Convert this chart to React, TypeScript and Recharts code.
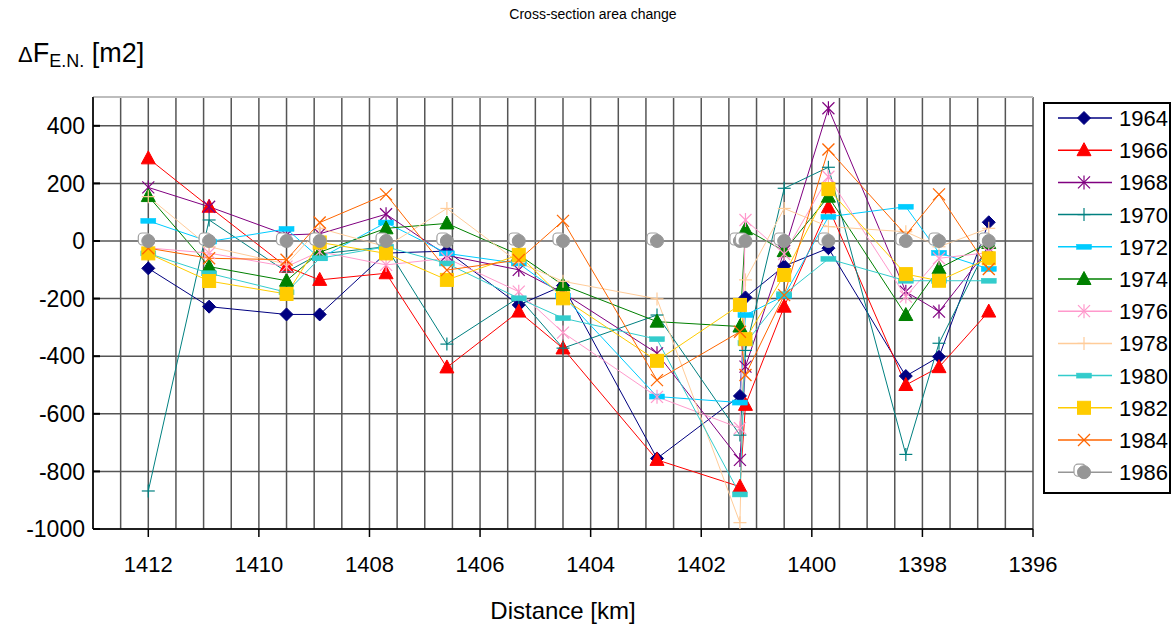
import React from 'react';
import { LineChart, Line, XAxis, YAxis, CartesianGrid, ReferenceLine } from 'recharts';

// Distance along the river [km]
const distances = [1412, 1410.9, 1409.5, 1408.9, 1407.7, 1406.6, 1405.3, 1404.5, 1402.8, 1401.3, 1401.2, 1400.5, 1399.7, 1398.3, 1397.7, 1396.8];

const years = ['1964', '1966', '1968', '1970', '1972', '1974', '1976', '1978', '1980', '1982', '1984', '1986'];

const v1964 = [-95, -228, -255, -255, -42, -35, -222, -155, -755, -538, -196, -87, -25, -469, -402, 65];
const v1966 = [287, 119, -90, -135, -112, -439, -245, -373, -760, -853, -569, -228, 117, -500, -438, -245];
const v1968 = [186, 119, 21, 25, 93, -50, -100, -180, -390, -760, -436, -35, 461, -176, -245, -25];
const v1970 = [-868, 73, -107, -45, -20, -358, -196, -372, -257, -674, -380, 183, 256, -741, -355, -10];
const v1972 = [70, -2, 42, -60, 64, -43, -78, -190, -540, -561, -257, -190, 84, 119, -41, -97];
const v1974 = [156, -89, -138, -39, 44, 61, -48, -153, -280, -297, 41, -35, 154, -257, -95, -7];
const v1976 = [-24, -42, -89, -37, -83, -60, -176, -318, -541, -650, 73, -45, 223, -193, -60, -40];
const v1978 = [154, -20, -80, 44, -20, 113, -75, -140, -201, -978, -135, 113, 50, 32, -20, 44];
const v1980 = [-43, -112, -178, -60, -20, -78, -199, -268, -341, -880, -355, -185, -62, -138, -138, -138];
const v1982 = [-43, -139, -184, -5, -43, -135, -48, -199, -416, -222, -341, -118, 180, -115, -138, -60];
const v1984 = [-25, -60, -65, 64, 162, -101, -66, 70, -483, -315, -465, -188, 318, 21, 162, -97];
const v1986 = [0, 0, 0, 0, 0, 0, 0, 0, 0, 0, 0, 0, 0, 0, 0, 0];

const seriesValues = [v1964, v1966, v1968, v1970, v1972, v1974, v1976, v1978, v1980, v1982, v1984, v1986];

const seriesColors = ['#000080', '#FF0000', '#800080', '#008080', '#00CCFF', '#008000', '#FF99CC', '#FFCC99', '#33CCCC', '#FFCC00', '#FF6600', '#969696'];
const seriesMarkers = ['diamond', 'triangle', 'asterisk', 'plus', 'dash', 'triangle', 'asterisk', 'plus', 'dash', 'square', 'cross', 'circle'];

const xLabelTicks = [1412, 1410, 1408, 1406, 1404, 1402, 1400, 1398, 1396];
const xGridTicks = [1396, 1396.5, 1397, 1397.5, 1398, 1398.5, 1399, 1399.5, 1400, 1400.5, 1401, 1401.5, 1402, 1402.5, 1403, 1403.5, 1404, 1404.5, 1405, 1405.5, 1406, 1406.5, 1407, 1407.5, 1408, 1408.5, 1409, 1409.5, 1410, 1410.5, 1411, 1411.5, 1412, 1412.5, 1413];
const yTicks = [-1000, -800, -600, -400, -200, 0, 200, 400];

const data = distances.map((d, i) => {
  const row: any = { x: d };
  years.forEach((y, k) => { row['y' + y] = seriesValues[k][i]; });
  return row;
});

const FONT = '"Liberation Sans", Arial, Helvetica, sans-serif';

function Marker({ cx, cy, kind, color }: { cx: number; cy: number; kind: string; color: string }) {
  if (cx == null || cy == null || isNaN(cx) || isNaN(cy)) return <g />;
  switch (kind) {
    case 'diamond':
      return <polygon points={`${cx},${cy - 6.5} ${cx + 6.5},${cy} ${cx},${cy + 6.5} ${cx - 6.5},${cy}`} fill={color} stroke={color} strokeWidth={1} />;
    case 'triangle':
      return <polygon points={`${cx},${cy - 7.5} ${cx + 7},${cy + 5.5} ${cx - 7},${cy + 5.5}`} fill={color} stroke={color} strokeWidth={1} />;
    case 'asterisk':
      return (
        <g stroke={color} strokeWidth={1.2}>
          <line x1={cx - 6} y1={cy - 6} x2={cx + 6} y2={cy + 6} />
          <line x1={cx - 6} y1={cy + 6} x2={cx + 6} y2={cy - 6} />
          <line x1={cx} y1={cy - 7} x2={cx} y2={cy + 7} />
        </g>
      );
    case 'plus':
      return (
        <g stroke={color} strokeWidth={1.2}>
          <line x1={cx - 6.5} y1={cy} x2={cx + 6.5} y2={cy} />
          <line x1={cx} y1={cy - 6.5} x2={cx} y2={cy + 6.5} />
        </g>
      );
    case 'dash':
      return <rect x={cx - 7.5} y={cy - 2.5} width={15} height={5} fill={color} stroke={color} strokeWidth={0.5} />;
    case 'square':
      return <rect x={cx - 6.5} y={cy - 6.5} width={13} height={13} fill={color} stroke={color} strokeWidth={1} />;
    case 'cross':
      return (
        <g stroke={color} strokeWidth={1.3}>
          <line x1={cx - 6} y1={cy - 6} x2={cx + 6} y2={cy + 6} />
          <line x1={cx - 6} y1={cy + 6} x2={cx + 6} y2={cy - 6} />
        </g>
      );
    case 'circle':
      return (
        <g>
          <rect x={cx - 10} y={cy - 8} width={12} height={12} rx={4} fill="#ffffff" stroke="#a0a0a0" strokeWidth={1.2} />
          <circle cx={cx} cy={cy} r={6.5} fill={color} stroke={color} />
        </g>
      );
    default:
      return <g />;
  }
}

const XTick = (props: any) => {
  const { x, y, payload } = props;
  const v = payload.value;
  if (!xLabelTicks.includes(v)) return <g />;
  return (
    <g>
      <line x1={x} x2={x} y1={y} y2={y + 8} stroke="#000" strokeWidth={1.5} />
      <text x={x} y={y + 43} textAnchor="middle" fontSize={22} fontFamily={FONT} fill="#000">{v}</text>
    </g>
  );
};

const YTick = (props: any) => {
  const { x, y, payload } = props;
  return (
    <g>
      <line x1={x} x2={x + 7} y1={y} y2={y} stroke="#000" strokeWidth={2} />
      <text x={x - 8} y={y} dy="0.36em" textAnchor="end" fontSize={23} fontFamily={FONT} fill="#000">{payload.value}</text>
    </g>
  );
};

export default function App() {
  return (
    <div style={{ position: 'absolute', left: 0, top: 0, width: 1175, height: 628, background: '#fff', fontFamily: FONT }}>
      <LineChart width={1175} height={628} data={data} margin={{ top: 97, right: 142, bottom: 59, left: 0 }}>
        <CartesianGrid stroke="#555555" strokeWidth={1.5} />
        <XAxis
          type="number"
          dataKey="x"
          domain={[1396, 1413]}
          reversed
          ticks={xGridTicks}
          interval={0}
          tick={<XTick />}
          tickLine={false}
          tickSize={0}
          tickMargin={0}
          height={40}
          axisLine={{ stroke: '#000', strokeWidth: 1.5 }}
          allowDataOverflow
        />
        <YAxis
          type="number"
          domain={[-1000, 500]}
          ticks={yTicks}
          interval={0}
          tick={<YTick />}
          tickLine={false}
          tickSize={0}
          tickMargin={0}
          width={93}
          axisLine={{ stroke: '#000', strokeWidth: 1.5 }}
          allowDataOverflow
        />
        <ReferenceLine y={500} stroke="#bdbdbd" strokeWidth={2} />
        {years.map((yr, k) => (
          <Line
            key={yr}
            type="linear"
            dataKey={'y' + yr}
            stroke={seriesColors[k]}
            strokeWidth={1}
            isAnimationActive={false}
            dot={(p: any) => <Marker key={yr + '-' + p.index} cx={p.cx} cy={p.cy} kind={seriesMarkers[k]} color={seriesColors[k]} />}
            activeDot={false}
          />
        ))}
      </LineChart>
      <svg width={1175} height={628} style={{ position: 'absolute', left: 0, top: 0, pointerEvents: 'none' }}>
        <text x={593} y={19} textAnchor="middle" fontSize={14} fontFamily={FONT} fill="#000">Cross-section area change</text>
        <text x={18} y={62} fontSize={27} fontFamily={FONT} fill="#000">
          <tspan fontSize={22}>Δ</tspan>
          <tspan>F</tspan>
          <tspan fontSize={18} dy={5}>E.N.</tspan>
          <tspan dy={-5}> [m2]</tspan>
        </text>
        <text x={563} y={619} textAnchor="middle" fontSize={24} fontFamily={FONT} fill="#000">Distance [km]</text>
        <rect x={1044} y={103} width={126} height={390} fill="#fff" stroke="#000" strokeWidth={2} />
        {years.map((yr, k) => {
          const cy = 118 + k * 32.2;
          return (
            <g key={yr}>
              <line x1={1058} x2={1112} y1={cy} y2={cy} stroke={seriesColors[k]} strokeWidth={1.5} />
              <Marker cx={1084} cy={cy} kind={seriesMarkers[k]} color={seriesColors[k]} />
              <text x={1119} y={cy} dy="0.36em" fontSize={22} fontFamily={FONT} fill="#000">{yr}</text>
            </g>
          );
        })}
      </svg>
    </div>
  );
}
